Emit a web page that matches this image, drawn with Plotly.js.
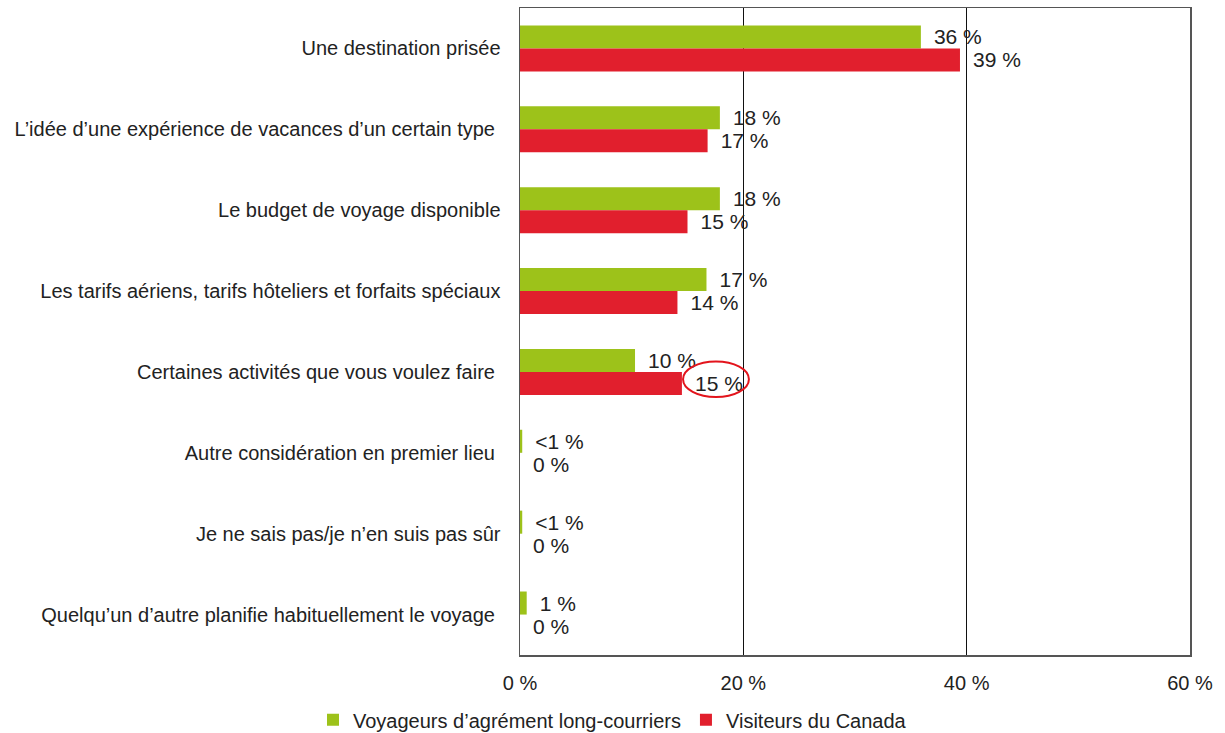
<!DOCTYPE html>
<html>
<head>
<meta charset="utf-8">
<script src="https://cdn.plot.ly/plotly-3.0.1.min.js"></script>
<style>
  html, body { margin: 0; padding: 0; background: #fff; }
  #chart { width: 1225px; height: 733px; }
</style>
</head>
<body>
<div id="chart"></div>
<script>
// categories, top to bottom
const categories = [
  'Une destination prisée',
  'L\u2019idée d\u2019une expérience de vacances d\u2019un certain type ',
  'Le budget de voyage disponible',
  'Les tarifs aériens, tarifs hôteliers et forfaits spéciaux',
  'Certaines activités que vous voulez faire ',
  'Autre considération en premier lieu ',
  'Je ne sais pas/je n\u2019en suis pas sûr',
  'Quelqu\u2019un d\u2019autre planifie habituellement le voyage '
];

const longHaulValues = [35.9, 17.9, 17.9, 16.7, 10.3, 0.2, 0.2, 0.6];
const longHaulLabels = ['36 %', '18 %', '18 %', '17 %', '10 %', '<1 %', '<1 %', '1 %'];

const canadaValues = [39.4, 16.8, 15.0, 14.1, 14.5, 0, 0, 0];
const canadaLabels = ['39 %', '17 %', '15 %', '14 %', '15 %', '0 %', '0 %', '0 %'];

const xTicks = [0, 20, 40, 60];
const xTickLabels = ['0 %', '20 %', '40 %', '60 %'];

const GREEN = '#9dc21a';
const RED = '#e11f2d';
const FONT = 'Liberation Sans, Arial, sans-serif';

const labelFont = { family: FONT, size: 21, color: '#222' };
// a little gap between bar end and its label
const pad = s => '\u00a0\u2009' + s;

Plotly.newPlot('chart', [
  {
    type: 'bar',
    orientation: 'h',
    name: 'Voyageurs d\u2019agrément long-courriers',
    y: categories,
    x: longHaulValues,
    text: longHaulLabels.map(pad),
    textposition: 'outside',
    constraintext: 'none',
    cliponaxis: false,
    textfont: labelFont,
    marker: { color: GREEN },
    hoverinfo: 'none'
  },
  {
    type: 'bar',
    orientation: 'h',
    name: 'Visiteurs du Canada',
    y: categories,
    x: canadaValues,
    text: canadaLabels.map(pad),
    textposition: 'outside',
    constraintext: 'none',
    cliponaxis: false,
    textfont: labelFont,
    marker: { color: RED },
    hoverinfo: 'none'
  }
], {
  width: 1225,
  height: 733,
  barmode: 'group',
  bargap: 0.43,
  bargroupgap: 0,
  margin: { l: 520, r: 35, t: 8, b: 78, pad: 0, autoexpand: false },
  paper_bgcolor: '#fff',
  plot_bgcolor: '#fff',
  font: { family: FONT, size: 20, color: '#222' },
  xaxis: {
    range: [0, 60],
    tickvals: xTicks,
    ticktext: xTickLabels,
    showgrid: true,
    gridcolor: '#111',
    gridwidth: 1,
    zeroline: false,
    showline: true,
    mirror: true,
    linecolor: '#555',
    linewidth: 1.5,
    ticks: '',
    ticklabelstandoff: 9,
    tickfont: { family: FONT, size: 20, color: '#222' },
    fixedrange: true
  },
  yaxis: {
    autorange: 'reversed',
    type: 'category',
    showgrid: false,
    zeroline: false,
    showline: true,
    mirror: true,
    linecolor: '#555',
    linewidth: 1.5,
    ticks: '',
    ticklabelstandoff: 14,
    tickfont: { family: FONT, size: 20, color: '#222' },
    fixedrange: true
  },
  shapes: [
    {
      type: 'circle',
      xref: 'x', yref: 'y',
      x0: 14.6, x1: 20.5,
      y0: 3.87, y1: 4.31,
      line: { color: '#e3141c', width: 2 }
    }
  ],
  legend: {
    orientation: 'h',
    x: 0.5, xref: 'container', xanchor: 'center',
    y: -0.1, yanchor: 'middle',
    font: { family: FONT, size: 20, color: '#222' },
    itemwidth: 30,
    traceorder: 'normal'
  },
  showlegend: true
}, { staticPlot: true });
</script>
</body>
</html>
